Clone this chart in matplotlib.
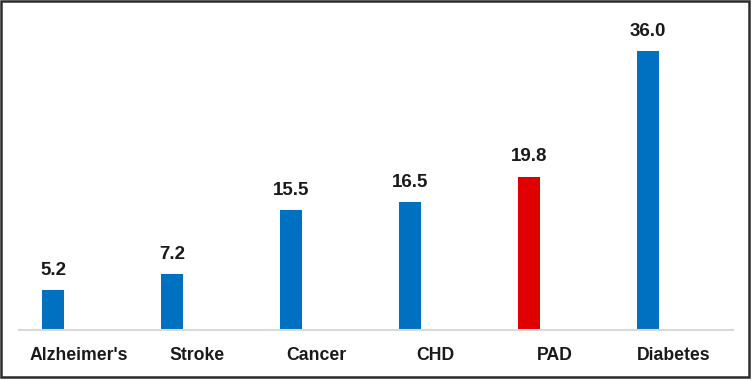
import numpy as np
import matplotlib.pyplot as plt
from matplotlib.patches import Rectangle

# data
categories = ["Alzheimer's", "Stroke", "Cancer", "CHD", "PAD", "Diabetes"]
values = [5.2, 7.2, 15.5, 16.5, 19.8, 36.0]
bar_colors = ["#0070C0", "#0070C0", "#0070C0", "#0070C0", "#E00000", "#0070C0"]

plt.rcParams['font.family'] = ['Liberation Sans', 'DejaVu Sans']

fig = plt.figure(figsize=(7.52, 3.8), dpi=100)
ax = fig.add_axes([19 / 752, 50 / 380, 714 / 752, 310 / 380])

x = np.arange(len(categories))
# bars sit left of the category centre (clustered layout with an empty second slot)
offset = -0.214
bars = ax.bar(x + offset, values, width=0.18, color=bar_colors)

for b, v in zip(bars, values):
    ax.annotate(f"{v:.1f}", (b.get_x() + b.get_width() / 2, v),
                xytext=(0, 8), textcoords='offset points',
                ha='center', va='bottom', fontsize=13.5, fontweight='bold',
                color='#1a1a1a')

ax.set_xlim(-0.5, len(categories) - 0.5)
ax.set_ylim(0, 40)
ax.set_xticks(x)
ax.set_xticklabels(categories, fontsize=12.7, fontweight='bold', color='#1a1a1a')
ax.tick_params(axis='x', length=0, pad=12.5)
ax.set_yticks([])
for s in ['left', 'right', 'top']:
    ax.spines[s].set_visible(False)
ax.spines['bottom'].set_color('#D9D9D9')
ax.spines['bottom'].set_linewidth(1.5)

# outer frame
fig.add_artist(Rectangle((1 / 752, 3 / 380), 748 / 752, 376 / 380,
                         transform=fig.transFigure, fill=False,
                         lw=1.8, ec='#2b2b2b'))

fig.savefig('out.png', dpi=100)
